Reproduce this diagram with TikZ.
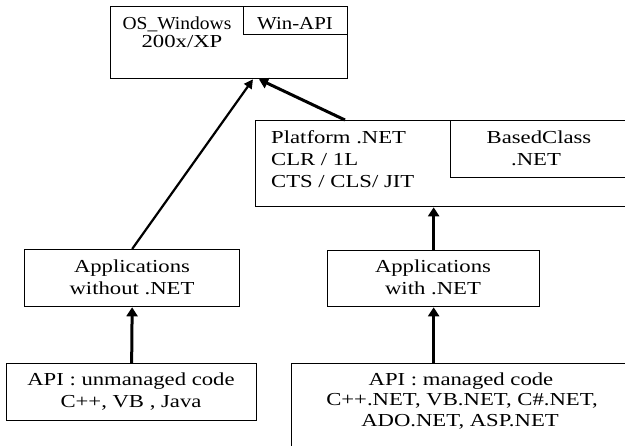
\documentclass[tikz,border=0pt]{standalone}
\usepackage{fontspec}
\setmainfont[FakeStretch=1.24]{Liberation Serif}
\usetikzlibrary{arrows.meta,calc}
\tikzset{
  box/.style={draw, line width=1.3pt, rectangle, anchor=north west, inner sep=0pt},
  txt/.style={anchor=base, inner sep=0pt, font=\fontsize{18.3}{22}\selectfont},
  ltxt/.style={anchor=base west, inner sep=0pt, font=\fontsize{18.3}{22}\selectfont},
  thickarrow/.style={line width=3pt, -{Triangle[length=9pt,width=11pt]}},
  thinarrow/.style={line width=2.2pt, -{Triangle[length=9pt,width=9pt]}}
}
\begin{document}
\begin{tikzpicture}[x=1pt,y=-1pt]
\clip (0,0) rectangle (625,446);
% boxes
\node[box, minimum width=237pt, minimum height=72pt] (os) at (110,6) {};
\node[box, minimum width=104pt, minimum height=28pt] (winapi) at (243,6) {};
\node[box, minimum width=400pt, minimum height=86pt] (plat) at (255,120) {};
\node[box, minimum width=205pt, minimum height=57pt] (based) at (450,120) {};
\node[box, minimum width=215pt, minimum height=57pt] (appw) at (24,249) {};
\node[box, minimum width=212pt, minimum height=56pt] (appn) at (327,250) {};
\node[box, minimum width=250pt, minimum height=57pt] (unm) at (6,363) {};
\node[box, minimum width=360pt, minimum height=100pt] (man) at (291,363) {};
% texts
\node[txt] (t1) at (177,30) {\scalebox{0.86}[1]{OS\_Windows}};
\node[txt] (t2) at (182,48) {200x/XP};
\node[txt] (t3) at (295,30) {\scalebox{0.92}[1]{Win-API}};
\node[ltxt] (t4) at (271,144) {Platform .NET};
\node[ltxt] (t5) at (271,166) {CLR / 1L};
\node[ltxt] (t6) at (271,188) {CTS / CLS/ JIT};
\node[txt] (t7) at (539,144) {BasedClass};
\node[txt] (t8) at (536,166) {.NET};
\node[txt] (t9) at (132,273) {Applications};
\node[txt] (t10) at (132,295) {without .NET};
\node[txt] (t11) at (433,273) {Applications};
\node[txt] (t12) at (433,295) {with .NET};
\node[txt] (t13) at (131,386) {API : unmanaged code};
\node[txt] (t14) at (131,408) {C++, VB , Java};
\node[txt] (t15) at (461,386) {API : managed code};
\node[txt] (t16) at (462,406) {C++.NET, VB.NET, C\#.NET,};
\node[txt] (t17) at (460,427) {ADO.NET, ASP.NET};
% connectors
\draw[thickarrow] (unm.north) -- (appw.south);
\draw[thinarrow] (appw.north) -- ($(os.south west)+(143,0)$);
\draw[thickarrow] ($(plat.north west)+(90,0)$) -- ($(os.south west)+(149,0)$);
\draw[thickarrow] (appn.north) -- (appn.north |- plat.south);
\draw[thickarrow] (appn.south |- man.north) -- (appn.south);
\end{tikzpicture}
\end{document}
